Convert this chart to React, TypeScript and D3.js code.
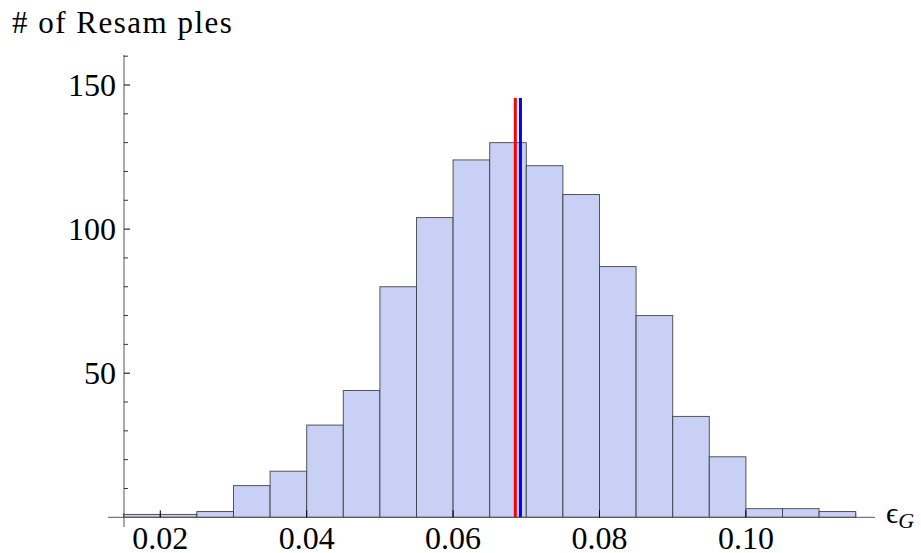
import React from "react";
import * as d3 from "d3";

const binStarts = [0.015, 0.02, 0.025, 0.03, 0.035, 0.04, 0.045, 0.05, 0.055, 0.06, 0.065, 0.07, 0.075, 0.08, 0.085, 0.09, 0.095, 0.1, 0.105, 0.11];
const counts = [1, 1, 2, 11, 16, 32, 44, 80, 104, 124, 130, 122, 112, 87, 70, 35, 21, 3, 3, 2];
const binWidth = 0.005;
const xTicks = [0.02, 0.04, 0.06, 0.08, 0.1];
const xTickLabels = ["0.02", "0.04", "0.06", "0.08", "0.10"];
const yTicks = [50, 100, 150];
const yMinorTicks = [10, 20, 30, 40, 60, 70, 80, 90, 110, 120, 130, 140, 160];
const redLineX = 0.0685;
const blueLineX = 0.0692;
const markerTop = 145.5;

const W = 921;
const H = 553;

export default function App() {
  const x = d3.scaleLinear().domain([0.02, 0.1]).range([160.3, 745.9]);
  const y = d3.scaleLinear().domain([0, 150]).range([517.3, 85]);
  const axisX = 124;
  const y0 = y(0);
  const serif = "'Liberation Serif', 'Times New Roman', serif";
  const xMinor = d3.range(0.015, 0.1151, 0.005);

  return (
    <svg width={W} height={H} style={{ position: "absolute", left: 0, top: 0, background: "#fff" }}>
      {/* x minor ticks */}
      {xMinor.map((t, i) => (
        <line key={"xm" + i} x1={x(t)} x2={x(t)} y1={y0} y2={y0 - 4} stroke="#000" strokeWidth={0.8} />
      ))}
      {/* bars */}
      {binStarts.map((b, i) => (
        <rect
          key={"b" + i}
          x={x(b)}
          y={y(counts[i])}
          width={x(b + binWidth) - x(b)}
          height={y0 - y(counts[i])}
          fill="#c9d0f5"
          stroke="#3a3a3a"
          strokeOpacity={0.85}
          strokeWidth={1}
        />
      ))}
      {/* mean lines */}
      <line x1={x(redLineX)} x2={x(redLineX)} y1={y0} y2={y(markerTop)} stroke="#ff0000" strokeWidth={3} />
      <line x1={x(blueLineX)} x2={x(blueLineX)} y1={y0} y2={y(markerTop)} stroke="#0000ff" strokeWidth={3} />
      {/* x axis */}
      <line x1={108} x2={875} y1={y0} y2={y0} stroke="#555" strokeWidth={1} />
      {xTicks.map((t, i) => (
        <g key={"xt" + i}>
          <line x1={x(t)} x2={x(t)} y1={y0} y2={y0 - 7} stroke="#000" strokeWidth={1} />
          <text x={x(t)} y={549} textAnchor="middle" fontFamily={serif} fontSize={32}>
            {xTickLabels[i]}
          </text>
        </g>
      ))}
      {/* y axis */}
      <line x1={axisX} x2={axisX} y1={55} y2={527} stroke="#555" strokeWidth={1} />
      {yMinorTicks.map((t, i) => (
        <line key={"ym" + i} x1={axisX} x2={axisX + 4} y1={y(t)} y2={y(t)} stroke="#000" strokeWidth={0.8} />
      ))}
      {yTicks.map((t, i) => (
        <g key={"yt" + i}>
          <line x1={axisX} x2={axisX + 6} y1={y(t)} y2={y(t)} stroke="#000" strokeWidth={1} />
          <text x={116} y={y(t) + 10.7} textAnchor="end" fontFamily={serif} fontSize={32}>
            {String(t)}
          </text>
        </g>
      ))}
      {/* labels */}
      <text x={12} y={33} fontFamily={serif} fontSize={31} letterSpacing={1.5}>
        # of Resam ples
      </text>
      <text x={886} y={523} fontFamily={serif} fontSize={30}>
        ϵ
        <tspan fontStyle="italic" fontSize={22} dy={5}>G</tspan>
      </text>
    </svg>
  );
}
